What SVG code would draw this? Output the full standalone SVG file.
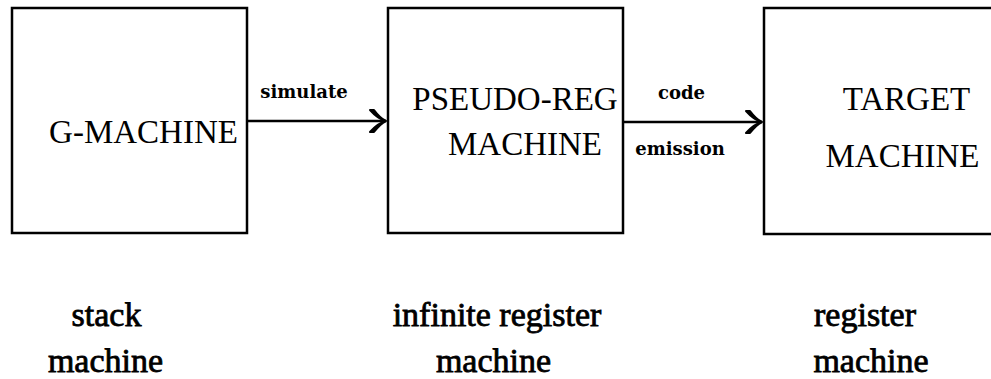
<svg xmlns="http://www.w3.org/2000/svg" width="991" height="379" viewBox="0 0 991 379">
<style>
.box{fill:none;stroke:#000;stroke-width:2.5}
.lbl{font-family:"Liberation Serif","Times New Roman",serif;font-size:33px;fill:#000;text-anchor:middle}
.edge{font-family:"DejaVu Serif",serif;font-weight:bold;font-size:18px;fill:#000;text-anchor:middle}
.note{font-family:"Liberation Serif","Times New Roman",serif;font-size:34px;fill:#000;stroke:#000;stroke-width:0.8;text-anchor:middle}
.conn{fill:none;stroke:#000;stroke-width:2.5}
</style>
<defs>
<marker id="arr" markerWidth="20" markerHeight="24" refX="17" refY="12" orient="auto" markerUnits="userSpaceOnUse">
<path d="M1,1 Q9,10 17,12 Q9,14 1,23 L5,23 Q11,15 17,12 Q11,9 5,1 Z" fill="#000" stroke="#000" stroke-width="2" stroke-linejoin="round"/>
</marker>
</defs>
<rect width="991" height="379" fill="#fff"/>
<g id="node-gmachine">
<rect class="box" x="12" y="8" width="235" height="225"/>
<text class="lbl" x="143.5" y="143">G-MACHINE</text>
</g>
<g id="node-pseudoreg">
<rect class="box" x="388" y="8" width="235" height="225"/>
<text class="lbl" x="515" y="110">PSEUDO-REG</text>
<text class="lbl" x="525" y="155">MACHINE</text>
</g>
<g id="node-target">
<rect class="box" x="764" y="8" width="240" height="226"/>
<text class="lbl" x="906.5" y="110">TARGET</text>
<text class="lbl" x="902.5" y="167">MACHINE</text>
</g>
<g id="connectors">
<line class="conn" x1="247" y1="121" x2="386" y2="121" marker-end="url(#arr)"/>
<line class="conn" x1="623" y1="122" x2="762" y2="122" marker-end="url(#arr)"/>
<text class="edge" x="304" y="98">simulate</text>
<text class="edge" x="681.5" y="99">code</text>
<text class="edge" x="680" y="155">emission</text>
</g>
<g id="notes">
<text class="note" x="106.5" y="326">stack</text>
<text class="note" x="105.5" y="372">machine</text>
<text class="note" x="497" y="326">infinite register</text>
<text class="note" x="493.5" y="372">machine</text>
<text class="note" x="865" y="326">register</text>
<text class="note" x="871" y="372">machine</text>
</g>
</svg>
